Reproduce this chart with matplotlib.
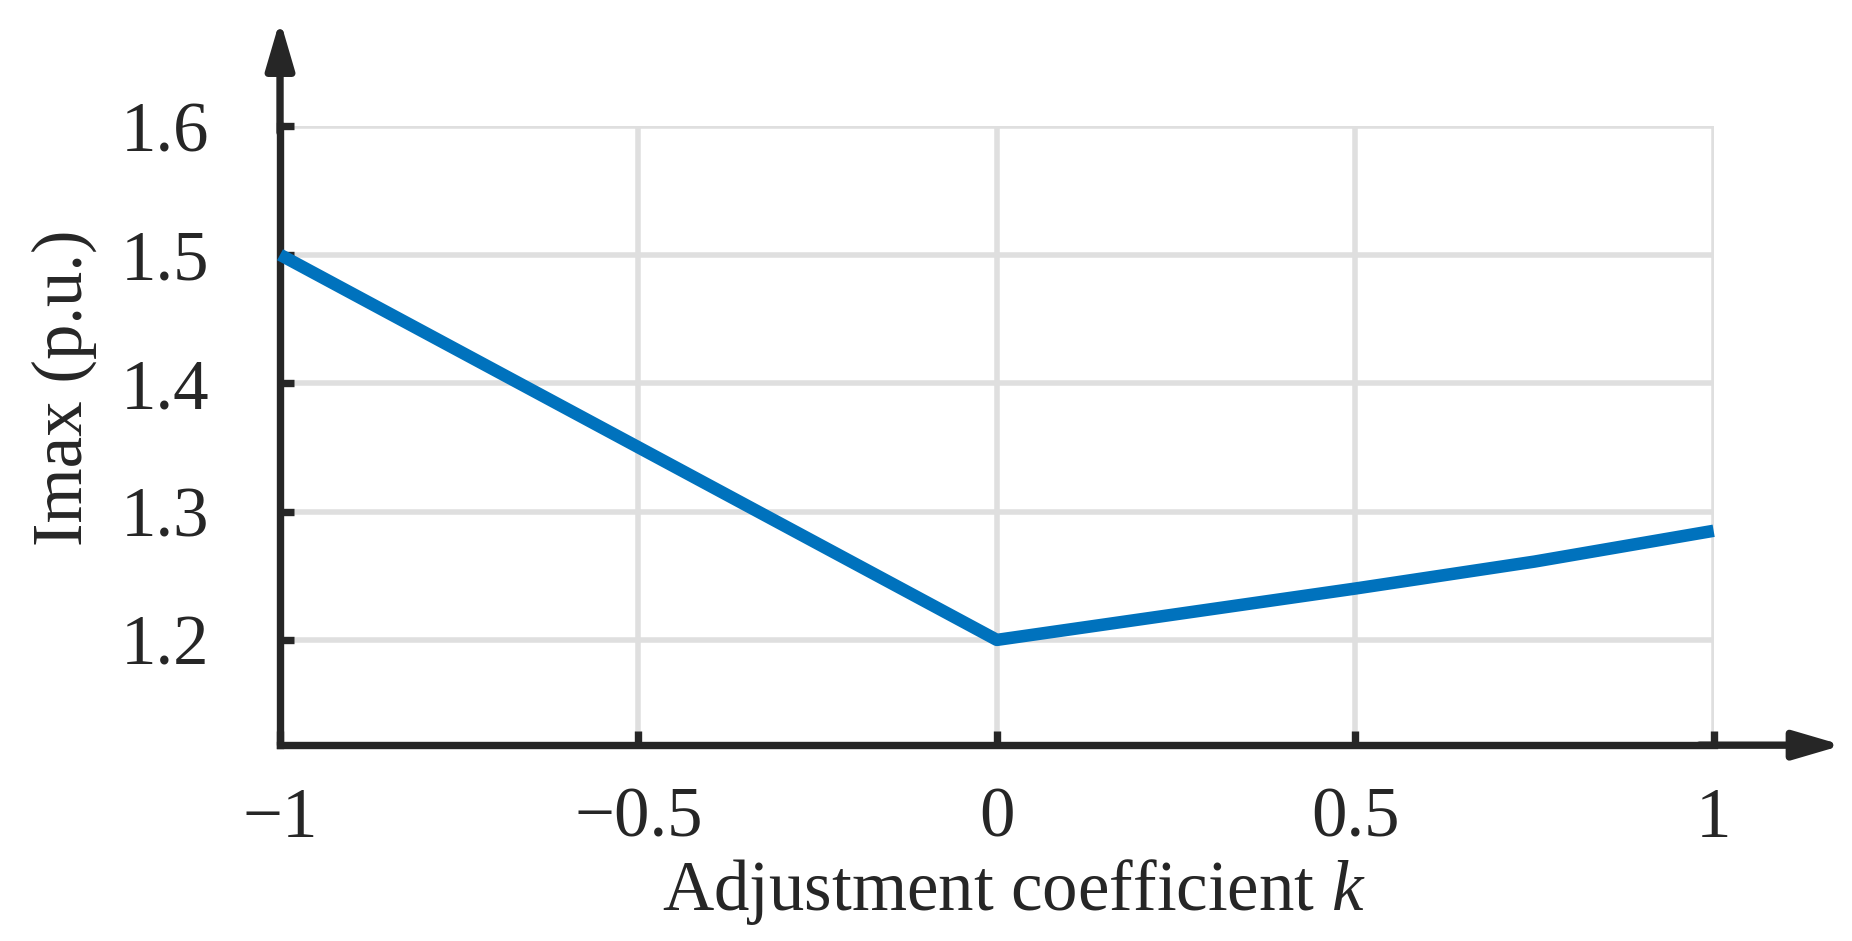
import matplotlib
matplotlib.use("Agg")
import matplotlib.pyplot as plt

# Data
k_vals = [-1.0, -0.5, 0.0, 0.25, 0.5, 0.75, 1.0]
imax_vals = [1.5, 1.35, 1.2, 1.220, 1.240, 1.261, 1.285]
x_ticks = [-1, -0.5, 0, 0.5, 1]
x_tick_labels = ["\u22121", "\u22120.5", "0", "0.5", "1"]
y_ticks = [1.2, 1.3, 1.4, 1.5, 1.6]
y_tick_labels = ["1.2", "1.3", "1.4", "1.5", "1.6"]

DARK = "#262626"
BLUE = "#0072BD"
FS = 51
AXW = 5.3

plt.rcParams["font.family"] = ["Liberation Serif", "DejaVu Serif"]
plt.rcParams["mathtext.fontset"] = "custom"
plt.rcParams["mathtext.rm"] = "Liberation Serif"
plt.rcParams["mathtext.it"] = "Liberation Serif:italic"

fig = plt.figure(figsize=(18.52, 9.41), dpi=100)
ax = fig.add_axes([0.1512, 0.2081, 0.7741, 0.6576])

ax.plot(k_vals, imax_vals, color=BLUE, lw=9, solid_capstyle="butt", zorder=3, clip_on=False)

ax.set_xlim(-1, 1)
ax.set_ylim(1.118, 1.6)
ax.set_xticks(x_ticks)
ax.set_xticklabels(x_tick_labels)
ax.set_yticks(y_ticks)
ax.set_yticklabels(y_tick_labels)

ax.grid(True, color="#dfdfdf", lw=4.0)
ax.set_axisbelow(True)

for side in ["top", "right"]:
    ax.spines[side].set_visible(False)
for side in ["left", "bottom"]:
    ax.spines[side].set_color(DARK)
    ax.spines[side].set_linewidth(AXW)

ax.tick_params(direction="in", length=10, width=AXW, color=DARK,
               labelsize=FS, labelcolor=DARK)
ax.tick_params(axis="x", pad=30)
ax.tick_params(axis="y", pad=51)

# axis arrows
arrow_kw = dict(arrowstyle="-|>,head_length=29,head_width=8.5", lw=AXW,
                color=DARK, shrinkA=0, shrinkB=0, mutation_scale=1)
ax.annotate("", xy=(0, 1.172), xytext=(0, 0.99), xycoords="axes fraction",
            arrowprops=arrow_kw)
ax.annotate("", xy=(1.09, 0), xytext=(0.99, 0), xycoords="axes fraction",
            arrowprops=arrow_kw)

ax.set_xlabel("Adjustment coefficient $k$", fontsize=FS, color=DARK)
ax.set_ylabel("Imax (p.u.)", fontsize=FS, color=DARK)
ax.xaxis.set_label_coords(0.512, -0.18)
ax.yaxis.set_label_coords(-0.128, 0.578)

fig.savefig("out.png", dpi=100)
